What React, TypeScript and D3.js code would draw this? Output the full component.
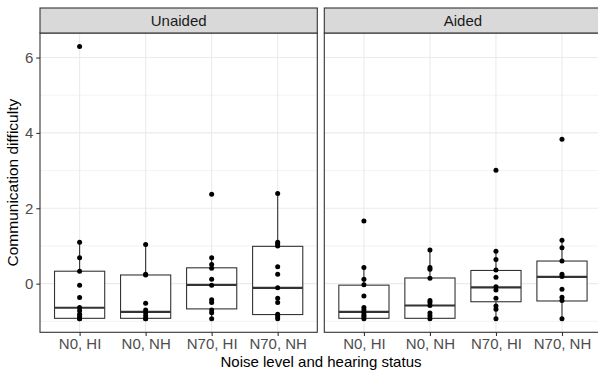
import React, { useRef, useEffect } from 'react';
import * as d3 from 'd3';

const W = 598;
const H = 370;

const PANELS = ['Unaided', 'Aided'];
const CATEGORIES = ['N0, HI', 'N0, NH', 'N70, HI', 'N70, NH'];
const Y_TICKS = [0, 2, 4, 6];
const Y_MINOR = [-1, 1, 3, 5];

// raw points per panel, per category
const UNAIDED_POINTS = [
    [6.29, 1.10, 0.69, 0.33, -0.04, -0.37, -0.63, -0.72, -0.81, -0.87, -0.93, -0.93],
    [1.04, 0.25, 0.23, -0.52, -0.70, -0.77, -0.85, -0.93, -0.93],
    [2.37, 0.69, 0.51, 0.41, 0.12, -0.04, -0.43, -0.50, -0.70, -0.77, -0.93],
    [2.39, 1.10, 1.05, 1.00, 0.45, 0.25, -0.11, -0.39, -0.50, -0.81, -0.87, -0.93],
];
const AIDED_POINTS = [
    [1.66, 0.43, 0.12, -0.03, -0.33, -0.63, -0.70, -0.77, -0.83, -0.87, -0.93],
    [0.89, 0.43, 0.38, 0.14, -0.45, -0.50, -0.58, -0.78, -0.85, -0.93],
    [3.01, 0.86, 0.64, 0.36, 0.17, -0.08, -0.17, -0.39, -0.59, -0.68, -0.93],
    [3.83, 1.15, 0.95, 0.60, 0.25, 0.19, -0.15, -0.36, -0.45, -0.93],
];

// box stats: [lower whisker, q1, median, q3, upper whisker]
const UNAIDED_BOXES = [
    [-0.93, -0.92, -0.64, 0.33, 1.10],
    [-0.93, -0.92, -0.75, 0.23, 1.04],
    [-0.93, -0.67, -0.03, 0.42, 0.69],
    [-0.93, -0.82, -0.11, 0.99, 2.39],
];
const AIDED_BOXES = [
    [-0.93, -0.92, -0.75, -0.04, 0.43],
    [-0.93, -0.92, -0.58, 0.15, 0.89],
    [-0.93, -0.48, -0.10, 0.35, 0.86],
    [-0.93, -0.46, 0.18, 0.60, 1.15],
];

const POINTS = [UNAIDED_POINTS, AIDED_POINTS];
const BOXES = [UNAIDED_BOXES, AIDED_BOXES];

const FONT = 'Liberation Sans, Arial, Helvetica, sans-serif';

const App = () => {
    const svgRef = useRef<SVGSVGElement>(null);

    useEffect(() => {
        document.body.style.margin = '0';
        const svg = d3.select(svgRef.current);
        svg.selectAll('*').remove();

        const top = 33, bottom = 332.3;
        const stripTop = 8;
        const panelX = [[40, 317.3], [324.3, 601.6]];

        const all = POINTS.flat(2);
        const lo = d3.min(all) as number, hi = d3.max(all) as number;
        const pad = (hi - lo) * 0.05;
        const y = d3.scaleLinear().domain([lo - pad, hi + pad]).range([bottom, top]);

        PANELS.forEach((name, p) => {
            const [x0, x1] = panelX[p];
            const x = d3.scalePoint<string>().domain(CATEGORIES).range([x0, x1]).padding(0.6);
            const bw = x.step() * 0.76;
            const g = svg.append('g');

            g.append('rect').attr('x', x0).attr('y', top).attr('width', x1 - x0).attr('height', bottom - top)
                .attr('fill', '#fff');

            // grid
            g.selectAll('.minor').data(Y_MINOR).enter().append('line')
                .attr('x1', x0).attr('x2', x1).attr('y1', d => y(d)).attr('y2', d => y(d))
                .attr('stroke', '#EBEBEB').attr('stroke-width', 0.6);
            g.selectAll('.major').data(Y_TICKS).enter().append('line')
                .attr('x1', x0).attr('x2', x1).attr('y1', d => y(d)).attr('y2', d => y(d))
                .attr('stroke', '#EBEBEB').attr('stroke-width', 1.1);
            g.selectAll('.vgrid').data(CATEGORIES).enter().append('line')
                .attr('x1', d => x(d)!).attr('x2', d => x(d)!).attr('y1', top).attr('y2', bottom)
                .attr('stroke', '#EBEBEB').attr('stroke-width', 1.1);

            // boxes
            BOXES[p].forEach((b, i) => {
                const cx = x(CATEGORIES[i])!;
                const [wl, q1, med, q3, wh] = b;
                g.append('line').attr('x1', cx).attr('x2', cx).attr('y1', y(q3)).attr('y2', y(wh))
                    .attr('stroke', '#333').attr('stroke-width', 1.1);
                g.append('line').attr('x1', cx).attr('x2', cx).attr('y1', y(q1)).attr('y2', y(wl))
                    .attr('stroke', '#333').attr('stroke-width', 1.1);
                g.append('rect').attr('x', cx - bw / 2).attr('width', bw)
                    .attr('y', y(q3)).attr('height', y(q1) - y(q3))
                    .attr('fill', '#fff').attr('stroke', '#333').attr('stroke-width', 1.1);
                g.append('line').attr('x1', cx - bw / 2).attr('x2', cx + bw / 2)
                    .attr('y1', y(med)).attr('y2', y(med))
                    .attr('stroke', '#333').attr('stroke-width', 2.2);
            });

            // points
            POINTS[p].forEach((vals, i) => {
                g.selectAll(null).data(vals).enter().append('circle')
                    .attr('cx', x(CATEGORIES[i])!).attr('cy', d => y(d)).attr('r', 2.5)
                    .attr('fill', '#000');
            });

            // panel border
            g.append('rect').attr('x', x0).attr('y', top).attr('width', x1 - x0).attr('height', bottom - top)
                .attr('fill', 'none').attr('stroke', '#333').attr('stroke-width', 1.1);

            // strip
            g.append('rect').attr('x', x0).attr('y', stripTop).attr('width', x1 - x0).attr('height', top - stripTop)
                .attr('fill', '#D9D9D9').attr('stroke', '#333').attr('stroke-width', 1.1);
            g.append('text').attr('x', (x0 + x1) / 2).attr('y', (stripTop + top) / 2)
                .attr('text-anchor', 'middle').attr('dy', '0.35em')
                .attr('font-family', FONT).attr('font-size', 15).attr('fill', '#1A1A1A').text(name);

            // x axis
            const xa = g.append('g').attr('transform', `translate(0,${bottom})`)
                .call(d3.axisBottom(x).tickSize(3.7).tickPadding(2.5));
            xa.select('.domain').remove();
            xa.selectAll('.tick line').attr('stroke', '#333').attr('stroke-width', 1.1);
            xa.selectAll('.tick text').attr('fill', '#4D4D4D').attr('font-size', 15).attr('font-family', FONT);

            if (p === 0) {
                const ya = g.append('g').attr('transform', `translate(${x0},0)`)
                    .call(d3.axisLeft(y).tickValues(Y_TICKS).tickSize(3.7).tickPadding(3));
                ya.select('.domain').remove();
                ya.selectAll('.tick line').attr('stroke', '#333').attr('stroke-width', 1.1);
                ya.selectAll('.tick text').attr('fill', '#4D4D4D').attr('font-size', 15).attr('font-family', FONT);
            }
        });

        svg.append('text').attr('x', 321).attr('y', 366.5)
            .attr('text-anchor', 'middle').attr('font-family', FONT).attr('font-size', 15)
            .attr('fill', '#000').text('Noise level and hearing status');

        svg.append('text').attr('transform', `translate(18,${(top + bottom) / 2}) rotate(-90)`)
            .attr('text-anchor', 'middle').attr('font-family', FONT).attr('font-size', 15.5)
            .attr('fill', '#000').text('Communication difficulty');
    }, []);

    return (
        <div style={{ position: 'absolute', left: 0, top: 0 }}>
            <svg ref={svgRef} width={W} height={H} style={{ display: 'block' }} />
        </div>
    );
};

export default App;
